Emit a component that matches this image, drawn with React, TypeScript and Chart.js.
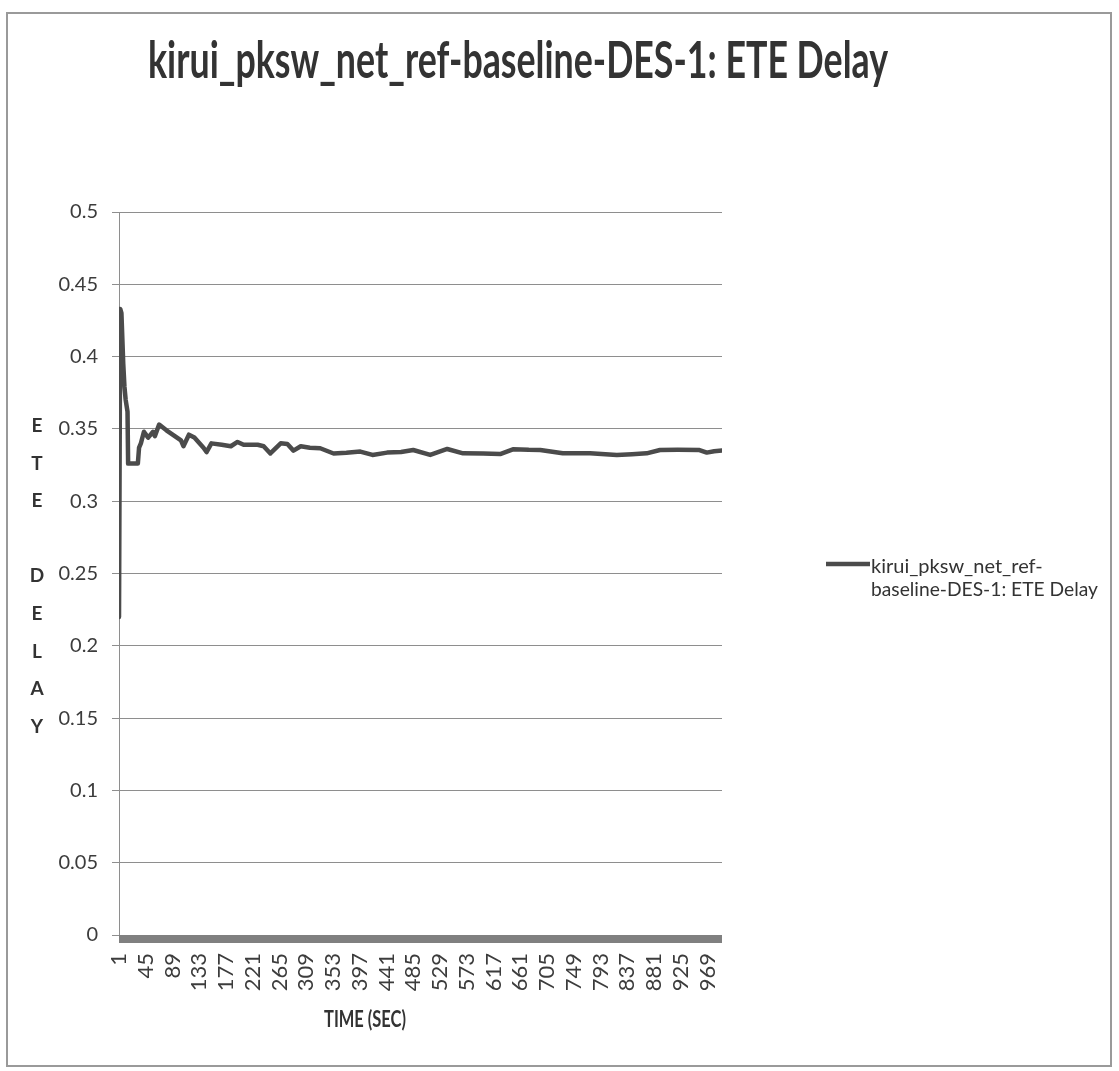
import React, { useEffect, useRef } from "react";
import { Chart, registerables } from "chart.js";

Chart.register(...registerables);

const TITLE = "kirui_pksw_net_ref-baseline-DES-1: ETE Delay";
const SERIES_NAME_LINES = ["kirui_pksw_net_ref-", "baseline-DES-1: ETE Delay"];
const X_TITLE = "TIME (SEC)";
const Y_TITLE_LETTERS = ["E", "T", "E", "", "D", "E", "L", "A", "Y"];

const X_TICKS = [1, 45, 89, 133, 177, 221, 265, 309, 353, 397, 441, 485, 529, 573, 617, 661, 705, 749, 793, 837, 881, 925, 969];
const Y_TICKS = [0, 0.05, 0.1, 0.15, 0.2, 0.25, 0.3, 0.35, 0.4, 0.45, 0.5];

const TIME_SEC = [
  1, 3, 5, 8, 10, 12, 15, 16, 32, 34,
  37, 42, 49, 57, 60, 67, 79, 103, 107, 116,
  125, 140, 145, 153, 170, 185, 196, 206, 229, 239,
  250, 267, 278, 288, 300, 315, 332, 354, 375, 398,
  418, 442, 465, 485, 513, 541, 567, 600, 628, 649,
  675, 694, 731, 776, 820, 845, 869, 891, 920, 956,
  968, 980, 993,
];
const ETE_DELAY = [
  0.22, 0.433, 0.43, 0.395, 0.379, 0.37, 0.362, 0.326, 0.326, 0.337,
  0.34, 0.348, 0.344, 0.348, 0.345, 0.353, 0.349, 0.342, 0.338, 0.346,
  0.344, 0.337, 0.334, 0.34, 0.339, 0.338, 0.341, 0.339, 0.339, 0.338,
  0.333, 0.34, 0.3395, 0.335, 0.338, 0.337, 0.3366, 0.333, 0.3335, 0.3343,
  0.332, 0.3336, 0.334, 0.3354, 0.332, 0.3361, 0.3331, 0.333, 0.3326, 0.3359,
  0.3355, 0.3354, 0.3331, 0.3331, 0.332, 0.3325, 0.3331, 0.3354, 0.3355, 0.3354,
  0.3336, 0.3345, 0.335,
];

const FONT = "Lato, 'Open Sans', sans-serif";
const LINE_COLOR = "#4b4b4b";
const TEXT_COLOR = "#333333";
const TICK_COLOR = "#3c3c3c";
const GRID_COLOR = "#8e8e8e";

const decorPlugin = {
  id: "decor",
  beforeDraw(chart: any) {
    const { ctx, width, height } = chart;
    ctx.save();
    ctx.fillStyle = "#ffffff";
    ctx.fillRect(0, 0, width, height);
    ctx.restore();
  },
  beforeDatasetsDraw(chart: any) {
    const { ctx, chartArea } = chart;
    ctx.save();
    ctx.fillStyle = "#808080";
    ctx.fillRect(chartArea.left, chartArea.bottom, chartArea.right - chartArea.left, 8);
    ctx.restore();
  },
  afterDraw(chart: any) {
    const { ctx } = chart;
    ctx.save();
    // frame
    ctx.strokeStyle = "#9a9a9a";
    ctx.lineWidth = 2;
    ctx.strokeRect(7, 13, 1104, 1053);

    // title
    ctx.fillStyle = TEXT_COLOR;
    ctx.textAlign = "center";
    ctx.textBaseline = "alphabetic";
    ctx.font = `bold 52px ${FONT}`;
    ctx.fillText(TITLE, 518, 78, 740);

    // x title
    ctx.font = `bold 22px ${FONT}`;
    ctx.fillText(X_TITLE, 365, 1027, 82);

    // y title, stacked letters
    ctx.font = `bold 19px ${FONT}`;
    Y_TITLE_LETTERS.forEach((ch, i) => {
      if (ch) ctx.fillText(ch, 37, 432 + i * 37.6);
    });

    // legend
    ctx.strokeStyle = LINE_COLOR;
    ctx.lineWidth = 4.5;
    ctx.beginPath();
    ctx.moveTo(826, 564);
    ctx.lineTo(870, 564);
    ctx.stroke();
    ctx.textAlign = "left";
    ctx.font = `20px ${FONT}`;
    ctx.fillText(SERIES_NAME_LINES[0], 871, 573, 182);
    ctx.fillText(SERIES_NAME_LINES[1], 871, 596, 227);
    ctx.restore();
  },
};

export default function App() {
  const ref = useRef<HTMLCanvasElement | null>(null);

  useEffect(() => {
    if (!ref.current) return;
    const points = TIME_SEC.map((t, i) => ({ x: t, y: ETE_DELAY[i] }));
    const chart = new Chart(ref.current, {
      type: "line",
      data: {
        datasets: [
          {
            label: SERIES_NAME_LINES.join(""),
            data: points,
            borderColor: LINE_COLOR,
            backgroundColor: LINE_COLOR,
            borderWidth: 4.5,
            pointRadius: 0,
            tension: 0,
            borderJoinStyle: "round",
            borderCapStyle: "round",
          },
        ],
      },
      options: {
        animation: false,
        responsive: false,
        maintainAspectRatio: false,
        layout: { padding: { left: 0, top: 212, right: 397, bottom: 0 } },
        plugins: {
          legend: { display: false },
          title: { display: false },
          tooltip: { enabled: false },
        },
        scales: {
          x: {
            type: "linear",
            min: 1,
            max: 993,
            afterBuildTicks: (scale: any) => {
              scale.ticks = X_TICKS.map((v) => ({ value: v }));
            },
            afterFit: (scale: any) => {
              scale.height = 1071 - 935;
            },
            grid: { display: false, drawTicks: false },
            border: { display: false },
            ticks: {
              autoSkip: false,
              minRotation: 90,
              maxRotation: 90,
              padding: 18,
              color: TICK_COLOR,
              font: { family: FONT, size: 22 },
              callback: (v: any) => String(v),
            },
          },
          y: {
            type: "linear",
            min: 0,
            max: 0.5,
            afterBuildTicks: (scale: any) => {
              scale.ticks = Y_TICKS.map((v) => ({ value: v }));
            },
            afterFit: (scale: any) => {
              scale.width = 119;
            },
            grid: {
              color: GRID_COLOR,
              lineWidth: 1,
              drawTicks: true,
              tickLength: 7,
            },
            border: { display: true, color: GRID_COLOR, width: 1 },
            ticks: {
              padding: 14,
              color: TICK_COLOR,
              font: { family: FONT, size: 20 },
              callback: (v: any) => String(Number(Number(v).toFixed(2))),
            },
          },
        },
      },
      plugins: [decorPlugin],
    });
    return () => chart.destroy();
  }, []);

  return (
    <div style={{ position: "absolute", left: 0, top: 0, width: 1119, height: 1071 }}>
      <canvas ref={ref} width={1119} height={1071} style={{ display: "block" }} />
    </div>
  );
}
